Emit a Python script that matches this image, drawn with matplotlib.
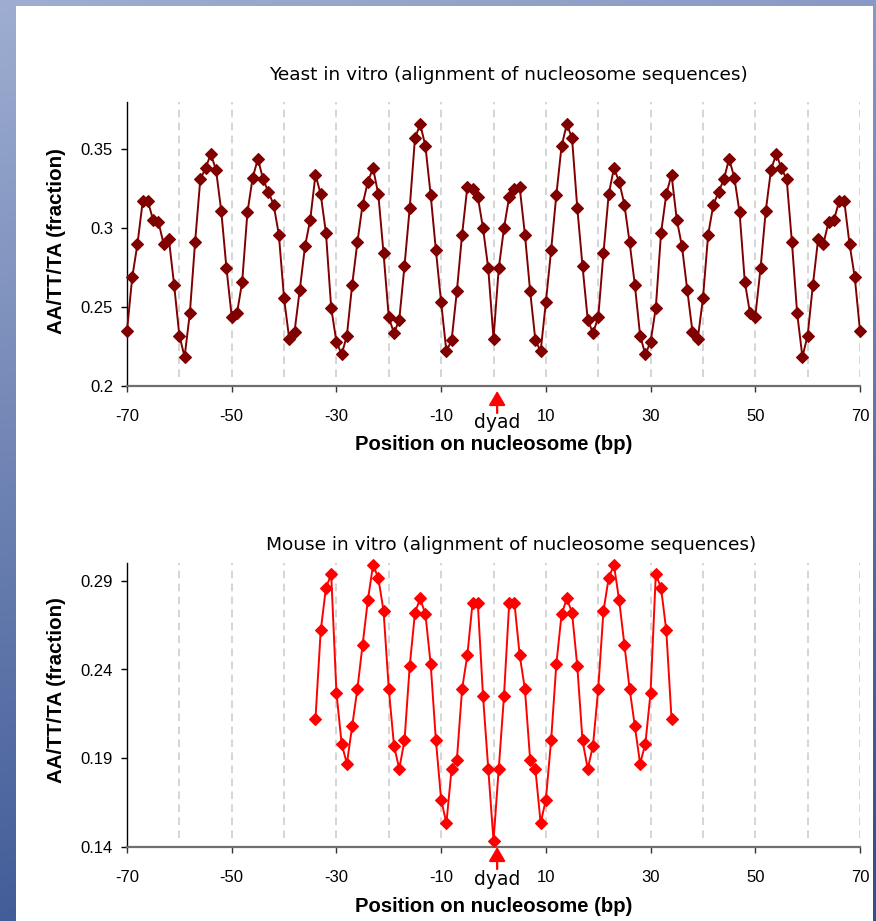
import numpy as np
import matplotlib
matplotlib.use("Agg")
import matplotlib.pyplot as plt
from matplotlib.patches import Rectangle

# DADOS

yeast_pos = np.arange(-70, 71)
yeast_val = [
    0.235, 0.269, 0.290, 0.317, 0.317, 0.305, 0.304, 0.290, 0.293, 0.264,   # -70..-61
    0.232, 0.2185, 0.246, 0.291, 0.331, 0.338, 0.347, 0.337, 0.311, 0.2745,  # -60..-51
    0.244, 0.246, 0.266, 0.310, 0.332, 0.344, 0.331, 0.323, 0.315, 0.296,   # -50..-41
    0.2555, 0.2295, 0.2345, 0.261, 0.2885, 0.3055, 0.334, 0.3215, 0.297, 0.2495,  # -40..-31
    0.228, 0.220, 0.232, 0.264, 0.291, 0.315, 0.3295, 0.338, 0.3215, 0.284,  # -30..-21
    0.2435, 0.2335, 0.242, 0.276, 0.313, 0.357, 0.366, 0.352, 0.321, 0.286,  # -20..-11
    0.253, 0.222, 0.229, 0.260, 0.296, 0.326, 0.325, 0.320, 0.300, 0.2745,  # -10..-1
    0.230,                                                                  # 0
    0.2745, 0.300, 0.320, 0.325, 0.326, 0.296, 0.260, 0.229, 0.222, 0.253,  # 1..10
    0.286, 0.321, 0.352, 0.366, 0.357, 0.313, 0.276, 0.242, 0.2335, 0.2435,  # 11..20
    0.284, 0.3215, 0.338, 0.3295, 0.315, 0.291, 0.264, 0.232, 0.220, 0.228,  # 21..30
    0.2495, 0.297, 0.3215, 0.334, 0.3055, 0.2885, 0.261, 0.2345, 0.2295, 0.2555,  # 31..40
    0.296, 0.315, 0.323, 0.331, 0.344, 0.332, 0.310, 0.266, 0.246, 0.244,   # 41..50
    0.2745, 0.311, 0.337, 0.347, 0.338, 0.331, 0.291, 0.246, 0.2185, 0.232,  # 51..60
    0.264, 0.293, 0.290, 0.304, 0.305, 0.317, 0.317, 0.290, 0.269, 0.235,   # 61..70
]

mouse_pos = np.arange(-34, 35)
mouse_val = [
    0.2123, 0.262, 0.286, 0.2937, 0.227, 0.198, 0.187, 0.208, 0.229, 0.254,  # -34..-25
    0.279, 0.299, 0.2915, 0.273, 0.229, 0.197, 0.184, 0.200, 0.242, 0.272,   # -24..-15
    0.280, 0.271, 0.243, 0.200, 0.1666, 0.1535, 0.184, 0.189, 0.229, 0.248,  # -14..-5
    0.2775, 0.2775, 0.225, 0.184,                                           # -4..-1
    0.1435,                                                                 # 0
    0.184, 0.225, 0.2775, 0.2775, 0.248, 0.229, 0.189, 0.184, 0.1535, 0.1666,  # 1..10
    0.200, 0.243, 0.271, 0.280, 0.272, 0.242, 0.200, 0.184, 0.197, 0.229,   # 11..20
    0.273, 0.2915, 0.299, 0.279, 0.254, 0.229, 0.208, 0.187, 0.198, 0.227,  # 21..30
    0.2937, 0.286, 0.262, 0.2123,                                           # 31..34
]

x_ticks = [-70, -50, -30, -10, 10, 30, 50, 70]
grid_x = [-60, -50, -40, -30, -20, -10, 0, 10, 20, 30, 40, 50, 60, 70]

yeast_yticks = [0.2, 0.25, 0.3, 0.35]
yeast_ylabels = ["0.2", "0.25", "0.3", "0.35"]
mouse_yticks = [0.14, 0.19, 0.24, 0.29]
mouse_ylabels = ["0.14", "0.19", "0.24", "0.29"]

W, H = 876, 921

fig = plt.figure(figsize=(W / 100, H / 100), dpi=100)

# FUNDO (moldura azul em degradê)

bg = fig.add_axes([0, 0, 1, 1], zorder=-5)
yy, xx = np.mgrid[0:1:200j, 0:1:200j]
t = np.clip(0.85 * yy + 0.2 * xx, 0, 1)
light = np.array([0.62, 0.68, 0.82])
dark = np.array([0.20, 0.31, 0.56])
img = light[None, None, :] * (1 - t[..., None]) + dark[None, None, :] * t[..., None]
bg.imshow(img, extent=[0, 1, 0, 1], aspect="auto", origin="upper")
bg.add_patch(Rectangle((16 / W, 0), (873 - 16) / W, (H - 6) / H,
                       facecolor="white", edgecolor="none"))
bg.set_xlim(0, 1)
bg.set_ylim(0, 1)
bg.axis("off")


def painel(rect, pos, vals, cor, yticks, ylabels, ylim, titulo, titulo_xy,
           ylabel_y, seta, dyad_y):
    ax = fig.add_axes(rect)
    ax.set_facecolor("white")

    for gx in grid_x:
        ax.axvline(gx, ymin=0.03, ymax=1, color="#cacaca", lw=1.1,
                   linestyle=(0, (5, 3.5)), zorder=1)

    ax.plot(pos, vals, color=cor, lw=1.4, marker="D", markersize=5.8,
            markeredgewidth=0.8, markerfacecolor=cor, markeredgecolor=cor,
            clip_on=False, zorder=3)

    ax.set_xlim(-70, 70)
    ax.set_ylim(*ylim)
    ax.set_xticks(x_ticks)
    ax.set_xticklabels([str(v) for v in x_ticks], family="Liberation Sans",
                       fontsize=12)
    ax.set_yticks(yticks)
    ax.set_yticklabels(ylabels, family="Liberation Sans", fontsize=12)

    for s in ["top", "right"]:
        ax.spines[s].set_visible(False)
    ax.spines["left"].set_color("black")
    ax.spines["left"].set_linewidth(1.0)
    ax.spines["bottom"].set_color("#6e6e6e")
    ax.spines["bottom"].set_linewidth(1.6)

    ax.tick_params(axis="x", direction="out", length=4.5, width=1,
                   color="#333333", pad=12, labelcolor="black")
    ax.tick_params(axis="y", direction="out", length=4, width=1,
                   color="black", pad=6, labelcolor="black")

    ax.text(titulo_xy[0], titulo_xy[1], titulo, transform=ax.transAxes,
            ha="center", va="center", fontsize=13.3, family="DejaVu Sans")

    ax.text(0.5, -59 / 284, "Position on nucleosome (bp)",
            transform=ax.transAxes, ha="center", va="center",
            fontsize=14.6, fontweight="bold", family="Liberation Sans")

    ax.text(-70 / 733, ylabel_y, "AA/TT/TA (fraction)",
            transform=ax.transAxes, ha="center", va="center", rotation=90,
            fontsize=14.8, fontweight="bold", family="Liberation Sans")

    # seta "dyad"
    tr = ax.get_xaxis_transform()
    ax.annotate("", xy=(0.7, seta[0]), xytext=(0.7, seta[1]),
                xycoords=tr, textcoords=tr,
                arrowprops=dict(arrowstyle="-|>,head_length=0.85,head_width=0.5",
                                color="red", lw=1.6, mutation_scale=10,
                                shrinkA=0, shrinkB=0),
                annotation_clip=False)
    ax.text(0.7, dyad_y, "dyad", transform=tr, ha="center", va="center",
            fontsize=13.5, family="DejaVu Sans")
    return ax


painel([127 / W, 535 / H, 733 / W, 284 / H], yeast_pos, yeast_val, "#800000",
       yeast_yticks, yeast_ylabels, (0.2, 0.38),
       "Yeast in vitro (alignment of nucleosome sequences)",
       ((508.5 - 127) / 733, 1 + 27 / 284), 0.51,
       (-5 / 284, -27 / 284), -37 / 284)

painel([127 / W, 74 / H, 733 / W, 284 / H], mouse_pos, mouse_val, "#ff0000",
       mouse_yticks, mouse_ylabels, (0.14, 0.30),
       "Mouse in vitro (alignment of nucleosome sequences)",
       ((511.5 - 127) / 733, 1 + 18 / 284), 0.553,
       (0 / 284, -22 / 284), -32 / 284)

fig.savefig("out.png", dpi=100)
